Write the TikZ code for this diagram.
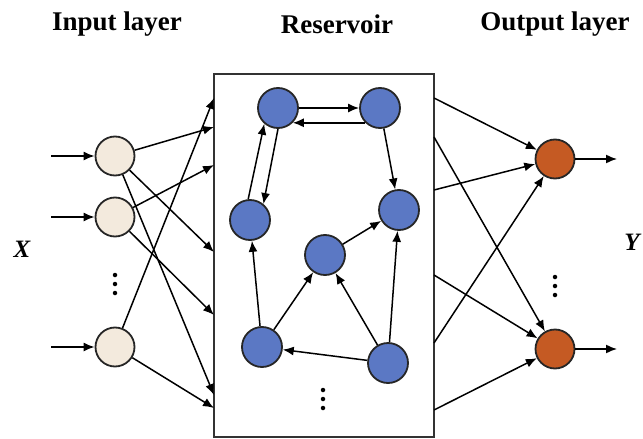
\documentclass[tikz,border=0pt]{standalone}
\usepackage{fontspec}
\setmainfont{Liberation Serif}
\usetikzlibrary{arrows.meta}
\definecolor{inbeige}{RGB}{243,234,221}
\definecolor{resblue}{RGB}{91,120,196}
\definecolor{outorange}{RGB}{197,90,35}
\begin{document}
\begin{tikzpicture}[x=1pt,y=-1pt,
  neuron/.style={circle,draw=black!85,line width=1.8pt,inner sep=0pt},
  inneuron/.style={neuron,fill=inbeige,minimum size=39pt},
  resneuron/.style={neuron,fill=resblue,minimum size=40pt},
  outneuron/.style={neuron,fill=outorange,minimum size=39pt},
  edge/.style={line width=1.5pt,-{Latex[length=11pt,width=9pt]}},
  title/.style={font=\fontsize{27}{30}\selectfont\bfseries},
  varlabel/.style={font=\fontsize{25}{28}\selectfont\bfseries\itshape},
  dotmark/.style={circle,fill=black,inner sep=0pt,minimum size=4.5pt}]
\useasboundingbox (0,0) rectangle (643,439);

% titles
\node[title] (t1) at (117,24) {Input layer};
\node[title] (t2) at (337,24) {Reservoir};
\node[title] (t3) at (555,24) {Output layer};

% reservoir box
\node[draw=black!80,line width=2pt,minimum width=220pt,minimum height=363pt,inner sep=0pt] (box) at (324,255.5) {};

% input neurons
\node[inneuron] (I1) at (115,156) {};
\node[inneuron] (I2) at (115,217) {};
\node[inneuron] (I3) at (115,347) {};
\node[dotmark] (di1) at (115,275) {};
\node[dotmark] (di2) at (115,284) {};
\node[dotmark] (di3) at (115,293) {};
\node[varlabel] (X) at (22,249) {X};

\coordinate (x1) at (51,156);
\coordinate (x2) at (51,217);
\coordinate (x3) at (51,347);
\draw[edge] (x1) -- (I1);
\draw[edge] (x2) -- (I2);
\draw[edge] (x3) -- (I3);

\coordinate (L1) at (214,98);
\coordinate (L2) at (214,127);
\coordinate (L3) at (214,165);
\coordinate (L4) at (214,252);
\coordinate (L5) at (214,315);
\coordinate (L6) at (214,395);
\coordinate (L7) at (214,408);
\draw[edge] (I1) -- (L2);
\draw[edge] (I1) -- (L4);
\draw[edge] (I1) -- (L6);
\draw[edge] (I2) -- (L3);
\draw[edge] (I2) -- (L5);
\draw[edge] (I3) -- (L1);
\draw[edge] (I3) -- (L7);

% reservoir neurons
\node[resneuron] (A) at (278,108) {};
\node[resneuron] (B) at (380,108) {};
\node[resneuron] (C) at (250,220) {};
\node[resneuron] (D) at (399,210) {};
\node[resneuron] (E) at (325,255) {};
\node[resneuron] (F) at (262,347) {};
\node[resneuron] (G) at (388,363) {};
\node[dotmark] (dr1) at (323,390) {};
\node[dotmark] (dr2) at (323,399) {};
\node[dotmark] (dr3) at (323,408) {};

\draw[edge] (A.east) -- (B.west);
\draw[edge] (B.-135) -- (A.-45);
\draw[edge] (C.95) -- (A.-131);
\draw[edge] (A.south) -- (C.50);
\draw[edge] (B) -- (D);
\draw[edge] (E) -- (D);
\draw[edge] (F) -- (C);
\draw[edge] (F) -- (E);
\draw[edge] (G) -- (E);
\draw[edge] (G) -- (F);
\draw[edge] (G) -- (D);

% output neurons
\node[outneuron] (O1) at (555,159) {};
\node[outneuron] (O2) at (555,349) {};
\node[dotmark] (do1) at (555,277) {};
\node[dotmark] (do2) at (555,286) {};
\node[dotmark] (do3) at (555,295) {};
\node[varlabel] (Y) at (632,242) {Y};

\coordinate (R1) at (434,98);
\coordinate (R2) at (434,137);
\coordinate (R3) at (434,190);
\coordinate (R4) at (434,275);
\coordinate (R5) at (434,343);
\coordinate (R6) at (434,410);
\draw[edge] (R1) -- (O1);
\draw[edge] (R3) -- (O1);
\draw[edge] (R5) -- (O1);
\draw[edge] (R2) -- (O2);
\draw[edge] (R4) -- (O2);
\draw[edge] (R6) -- (O2);

\coordinate (y1) at (617,159);
\coordinate (y2) at (617,349);
\draw[edge] (O1) -- (y1);
\draw[edge] (O2) -- (y2);
\end{tikzpicture}
\end{document}
